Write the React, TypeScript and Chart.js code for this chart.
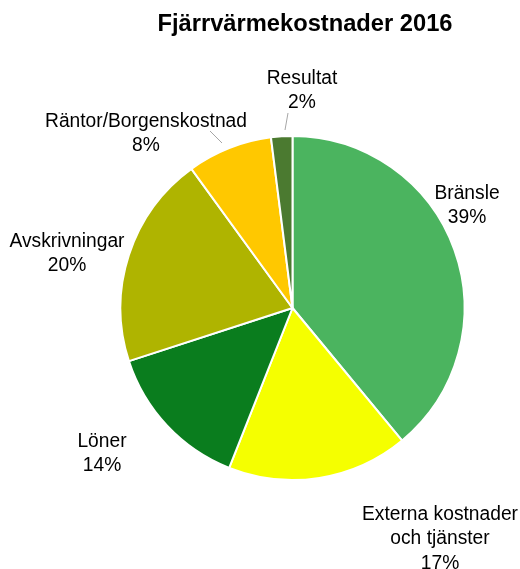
import React, { useEffect, useRef } from "react";
import { Chart, registerables } from "chart.js";

Chart.register(...registerables);

const title = "Fjärrvärmekostnader 2016";
const categories = ["Bränsle", "Externa kostnader och tjänster", "Löner", "Avskrivningar", "Räntor/Borgenskostnad", "Resultat"];
const values = [39, 17, 14, 20, 8, 2];
const colors = ["#4BB45F", "#F5FF00", "#0A7D1E", "#AFB400", "#FFC800", "#4B7A30"];
const labelLines: string[][] = [
  ["Bränsle"],
  ["Externa kostnader", "och tjänster"],
  ["Löner"],
  ["Avskrivningar"],
  ["Räntor/Borgenskostnad"],
  ["Resultat"],
];
const labelPos: [number, number][] = [
  [467, 193],
  [440, 514],
  [102, 441],
  [67, 241],
  [146, 121],
  [302, 78],
];
const leaders: [number, number, number, number][] = [
  [210, 131, 222, 143],
  [288, 113, 285, 130],
];

const FONT = '"Liberation Sans", Arial, sans-serif';

function drawScaled(ctx: CanvasRenderingContext2D, text: string, x: number, y: number, sx: number) {
  ctx.save();
  ctx.translate(x, y);
  ctx.scale(sx, 1);
  ctx.fillText(text, 0, 0);
  ctx.restore();
}

const labelPlugin = {
  id: "labelPlugin",
  afterDraw(chart: any) {
    const ctx = chart.ctx as CanvasRenderingContext2D;
    ctx.save();
    ctx.fillStyle = "#000";
    ctx.textAlign = "center";
    ctx.textBaseline = "middle";
    ctx.font = `bold 23px ${FONT}`;
    const tsx = 295 / ctx.measureText(title).width;
    drawScaled(ctx, title, 305, 25, tsx);
    ctx.font = `20px ${FONT}`;
    const lsx = 202 / ctx.measureText("Räntor/Borgenskostnad").width;
    const total = values.reduce((a, b) => a + b, 0);
    values.forEach((v, i) => {
      const lines = [...labelLines[i], Math.round((v / total) * 100) + "%"];
      const [x, y] = labelPos[i];
      lines.forEach((l, j) => drawScaled(ctx, l, x, y + j * 24.5, lsx));
    });
    ctx.strokeStyle = "#A6A6A6";
    ctx.lineWidth = 1;
    leaders.forEach(([x1, y1, x2, y2]) => {
      ctx.beginPath();
      ctx.moveTo(x1, y1);
      ctx.lineTo(x2, y2);
      ctx.stroke();
    });
    ctx.restore();
  },
};

export default function App() {
  const ref = useRef<HTMLCanvasElement>(null);
  useEffect(() => {
    if (!ref.current) return;
    const chart = new Chart(ref.current, {
      type: "pie",
      data: {
        labels: categories,
        datasets: [
          {
            data: values,
            backgroundColor: colors,
            borderColor: "#FFFFFF",
            borderWidth: 2,
          },
        ],
      },
      options: {
        responsive: false,
        animation: false,
        layout: { padding: { left: 119, right: 54, top: 135, bottom: 88 } },
        plugins: { legend: { display: false }, tooltip: { enabled: false }, title: { display: false } },
      },
      plugins: [labelPlugin],
    });
    return () => chart.destroy();
  }, []);
  return (
    <div style={{ position: "fixed", left: 0, top: 0, width: 520, height: 569, background: "#fff" }}>
      <canvas ref={ref} width={520} height={569} />
    </div>
  );
}
